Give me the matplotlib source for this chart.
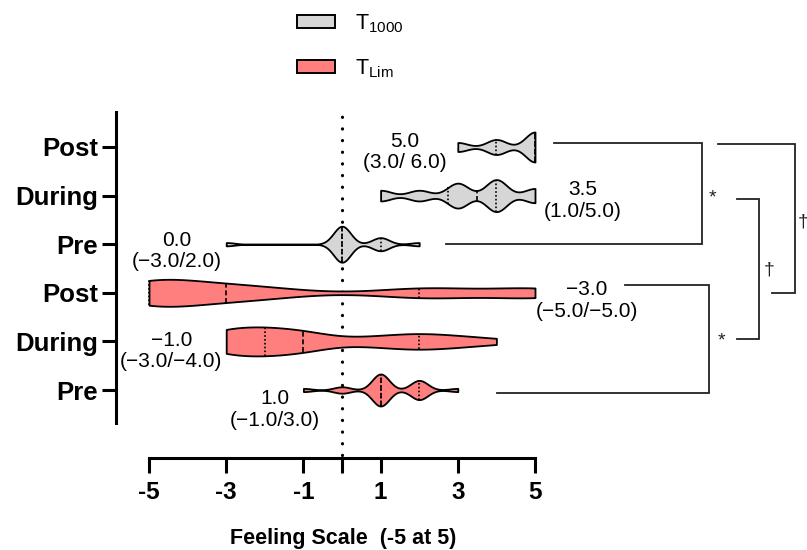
import numpy as np
import matplotlib
matplotlib.use("Agg")
import matplotlib.pyplot as plt
from matplotlib.patches import Patch

plt.rcParams['font.family'] = ['Liberation Sans', 'DejaVu Sans']
plt.rcParams['mathtext.fontset'] = 'custom'
plt.rcParams['mathtext.rm'] = 'Liberation Sans'
plt.rcParams['mathtext.it'] = 'Liberation Sans:italic'
plt.rcParams['mathtext.bf'] = 'Liberation Sans:bold'

# ---------------- data ----------------
scale_values = np.arange(-5, 6)          # Feeling Scale -5 .. 5
# number of responses at each scale value (-5 .. 5)
t1000_post   = [0, 0, 0, 0, 0, 0, 0, 0, 3, 5, 10]
t1000_during = [0, 0, 0, 0, 0, 0, 3, 3, 7, 9, 4]
t1000_pre    = [0, 0, 1, 0, 0, 11, 4, 1, 0, 0, 0]
tlim_post    = [9, 5, 4, 3, 1, 0, 1, 3, 2, 1, 4]
tlim_during  = [0, 0, 5, 5, 4, 1, 2, 3, 2, 1, 0]
tlim_pre     = [0, 0, 0, 0, 1, 2, 10, 6, 1, 0, 0]

group_counts = [tlim_pre, tlim_during, tlim_post, t1000_pre, t1000_during, t1000_post]
group_labels = ["Pre", "During", "Post", "Pre", "During", "Post"]
group_condition = ["lim", "lim", "lim", "1000", "1000", "1000"]
kde_bandwidth = [0.22, 0.7, 0.95, 0.22, 0.27, 0.25]

annot_median = ["1.0", "\u22121.0", "\u22123.0", "0.0", "3.5", "5.0"]
annot_range = ["(\u22121.0/3.0)", "(\u22123.0/\u22124.0)", "(\u22125.0/\u22125.0)",
               "(\u22123.0/2.0)", "(1.0/5.0)", "(3.0/ 6.0)"]

xticks = [-5, -3, -1, 0, 1, 3, 5]
xticklabels = ["-5", "-3", "-1", "", "1", "3", "5"]
xlabel = "Feeling Scale  (-5 at 5)"
legend_labels = [r"T$_{\mathrm{1000}}$", r"T$_{\mathrm{Lim}}$"]

# ---------------- styles ----------------
colors = {"1000": "#D6D6D6", "lim": "#FF7E7E"}
violin_width_px = [32, 29, 27, 36, 32, 30]
annot_pos = [(-1.74, -0.40), (-4.42, 0.80), (6.35, 1.84),
             (-4.27, 2.86), (6.24, 3.90), (1.63, 4.90)]

W, H = 807, 550
fig = plt.figure(figsize=(W / 100, H / 100), dpi=100)
ax_left, ax_right, ax_top, ax_bottom = 116, 545, 112, 423
ax = fig.add_axes([ax_left / W, (H - ax_bottom) / H,
                   (ax_right - ax_left) / W, (ax_bottom - ax_top) / H])
px_per_x = 38.6
px_per_y = 48.6
x_m5_px = 149
row0_px = 390
row5_px = row0_px - 5 * px_per_y
ax.set_xlim(-5 - (x_m5_px - ax_left) / px_per_x, 5 + (ax_right - (x_m5_px + 10 * px_per_x)) / px_per_x)
ax.set_ylim(-(ax_bottom - row0_px) / px_per_y, 5 + (row5_px - ax_top) / px_per_y)

# zero reference line (behind violins)
ax.axvline(0, ymin=-(455 - ax_bottom) / (ax_bottom - ax_top),
           ymax=(ax_bottom - 114) / (ax_bottom - ax_top),
           color="black", lw=2.3, linestyle=(0, (0.05, 3.6)),
           dash_capstyle="round", clip_on=False, zorder=1)

# violins
for i, counts in enumerate(group_counts):
    samples = np.repeat(scale_values, counts).astype(float)
    h = kde_bandwidth[i]
    xs = np.linspace(samples.min(), samples.max(), 400)
    dens = np.exp(-(xs[:, None] - samples[None, :]) ** 2 / (2 * h * h)).sum(axis=1)
    half = dens / dens.max() * (violin_width_px[i] / 2) / px_per_y
    col = colors[group_condition[i]]
    ax.fill_between(xs, i - half, i + half, facecolor=col, edgecolor="black",
                    lw=1.3, zorder=2, clip_on=False)
    q1, med, q3 = np.percentile(samples, [25, 50, 75], method="weibull")
    for q, style in ((q1, (0, (1, 1.3))), (q3, (0, (1, 1.3))), (med, (0, (3, 1.6)))):
        hq = np.interp(q, xs, half)
        ax.plot([q, q], [i - hq, i + hq], color="black", lw=1.2,
                linestyle=style, zorder=3, clip_on=False)

# annotations (median (Q1/Q3))
for i in range(len(group_counts)):
    x, y = annot_pos[i]
    ax.text(x, y, annot_median[i] + "\n" + annot_range[i], ha="center", va="center",
            fontsize=15, linespacing=1.15, zorder=4, clip_on=False)

# significance brackets
bracket_color = "#222222"
brackets = [
    [(2.69, 3.0), (9.33, 3.0), (9.33, 5.08), (5.49, 5.08)],
    [(4.02, -0.06), (9.51, -0.06), (9.51, 2.16), (7.33, 2.16)],
    [(10.23, 3.93), (10.80, 3.93), (10.80, 1.05), (10.23, 1.05)],
    [(9.74, 5.06), (11.74, 5.06), (11.74, 2.0), (11.14, 2.0)],
]
for br in brackets:
    bx, by = zip(*br)
    ax.plot(bx, by, color=bracket_color, lw=1.3, clip_on=False, solid_joinstyle="miter")
for (x, y, s) in [(9.61, 3.95, "*"), (9.82, 1.0, "*"), (11.06, 2.47, "\u2020"), (11.94, 3.46, "\u2020")]:
    ax.text(x, y, s, ha="center", va="center", fontsize=14, color=bracket_color, clip_on=False)

# axes styling
for s in ("top", "right"):
    ax.spines[s].set_visible(False)
ax.spines["left"].set_linewidth(2.2)
ax.spines["bottom"].set_linewidth(2.2)
ax.spines["bottom"].set_position(("outward", (458 - ax_bottom) * 0.72))
ax.spines["bottom"].set_bounds(-5, 5)
ax.set_xticks(xticks, xticklabels, fontsize=17.5, fontweight="bold")
ax.set_yticks(range(6), group_labels, fontsize=18.5, fontweight="bold")
ax.tick_params(axis="x", direction="out", length=10.5, width=2.2, pad=6)
ax.tick_params(axis="y", direction="out", length=10, width=2.2, pad=3)
ax.set_xlabel(xlabel, fontsize=15.5, fontweight="bold")
ax.xaxis.label.set_verticalalignment("baseline")
ax.xaxis.set_label_coords((343 - ax_left) / (ax_right - ax_left),
                          -(544 - ax_bottom) / (ax_bottom - ax_top))

# legend
handles = [Patch(facecolor=colors["1000"], edgecolor="black", lw=1.4),
           Patch(facecolor=colors["lim"], edgecolor="black", lw=1.4)]
fig.legend(handles, legend_labels, loc="upper left", bbox_to_anchor=(297 / W, 1 - 12 / H),
           frameon=False, fontsize=15.5, handlelength=1.75, handleheight=0.53,
           handletextpad=0.95, labelspacing=1.05, borderpad=0, borderaxespad=0)

fig.savefig("out.png", dpi=100)
